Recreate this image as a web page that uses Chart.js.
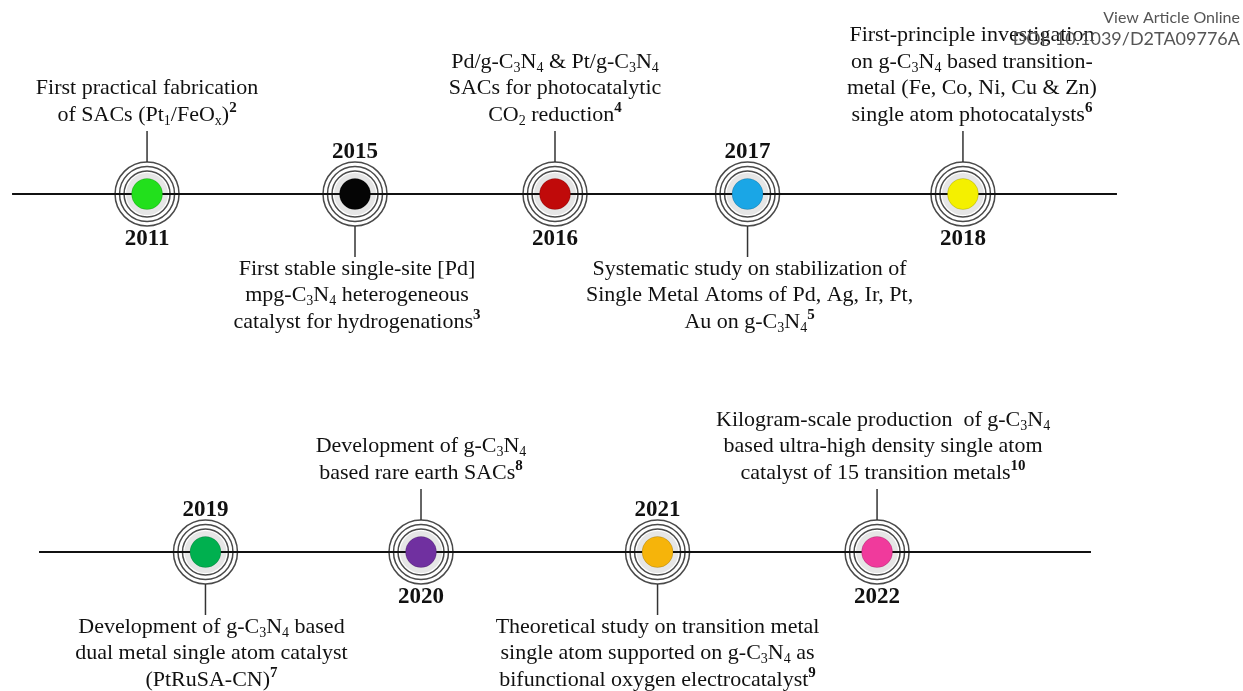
<!DOCTYPE html>
<html lang="en">
<head>
<meta charset="UTF-8">
<title>g-C3N4 single atom catalyst timeline</title>
<script src="https://cdn.jsdelivr.net/npm/chart.js"></script>
<style>
  body { margin: 0; background: #fff; }
  #wrap { position: relative; width: 1243px; height: 691px; }
</style>
</head>
<body>
<div id="wrap"><canvas id="timeline"></canvas></div>
<script>
// positions are % of page width along each timeline row
const topYears = ['2011', '2015', '2016', '2017', '2018'];
const topPositions = [11.83, 28.56, 44.65, 60.14, 77.47];
const bottomYears = ['2019', '2020', '2021', '2022'];
const bottomPositions = [16.53, 33.87, 52.9, 70.56];
const topAxisSpan = [0.97, 89.86];
const bottomAxisSpan = [3.14, 87.77];

// _{..} = subscript, ^{..} = superscript (reference number)
const topNotes = [
  ['First practical fabrication', 'of SACs (Pt_{1}/FeO_{x})^{2}'],
  ['First stable single-site [Pd]', 'mpg-C_{3}N_{4} heterogeneous', 'catalyst for hydrogenations^{3}'],
  ['Pd/g-C_{3}N_{4} & Pt/g-C_{3}N_{4}', 'SACs for photocatalytic', 'CO_{2} reduction^{4}'],
  ['Systematic study on stabilization of', 'Single Metal Atoms of Pd, Ag, Ir, Pt,', 'Au on g-C_{3}N_{4}^{5}'],
  ['First-principle investigation', 'on g-C_{3}N_{4} based transition-', 'metal (Fe, Co, Ni, Cu & Zn)', 'single atom photocatalysts^{6}']
];
const bottomNotes = [
  ['Development of g-C_{3}N_{4} based', 'dual metal single atom catalyst', '(PtRuSA-CN)^{7}'],
  ['Development of g-C_{3}N_{4}', 'based rare earth SACs^{8}'],
  ['Theoretical study on transition metal', 'single atom supported on g-C_{3}N_{4} as', 'bifunctional oxygen electrocatalyst^{9}'],
  ['Kilogram-scale production  of g-C_{3}N_{4}', 'based ultra-high density single atom', 'catalyst of 15 transition metals^{10}']
];

// styling
const topColors = ['#22e01c', '#050505', '#c00a0a', '#1aa6e6', '#f4f000'];
const bottomColors = ['#00b04f', '#7030a0', '#f6b40a', '#f03a9c'];
const topSides = ['up', 'down', 'up', 'down', 'up'];
const bottomSides = ['down', 'up', 'down', 'up'];
const topShift = [0, 2, 0, 2, 9];
const bottomShift = [6, 0, 0, 6];

const SERIF = '"Liberation Serif", "Times New Roman", serif';
const FS = 22;

function parseRich(str) {
  const parts = [];
  const re = /([_^])\{([^}]*)\}/g;
  let last = 0, m;
  while ((m = re.exec(str)) !== null) {
    if (m.index > last) parts.push({ t: str.slice(last, m.index), k: 'n' });
    parts.push({ t: m[2], k: m[1] === '_' ? 'sub' : 'sup' });
    last = re.lastIndex;
  }
  if (last < str.length) parts.push({ t: str.slice(last), k: 'n' });
  return parts;
}

function fontFor(k) {
  if (k === 'sub') return '14px ' + SERIF;
  if (k === 'sup') return 'bold 15px ' + SERIF;
  return FS + 'px ' + SERIF;
}

function drawRich(ctx, str, cx, cy) {
  const parts = parseRich(str);
  let total = 0;
  parts.forEach(p => { ctx.font = fontFor(p.k); p.w = ctx.measureText(p.t).width; total += p.w; });
  let x = cx - total / 2;
  ctx.textAlign = 'left';
  ctx.textBaseline = 'middle';
  parts.forEach(p => {
    ctx.font = fontFor(p.k);
    const dy = p.k === 'sub' ? 6 : (p.k === 'sup' ? -7 : 0);
    ctx.fillText(p.t, x, cy + dy);
    x += p.w;
  });
}

const events = [];
topYears.forEach((y, i) => events.push({ row: 0, year: y, notes: topNotes[i], side: topSides[i], shift: topShift[i] }));
bottomYears.forEach((y, i) => events.push({ row: 1, year: y, notes: bottomNotes[i], side: bottomSides[i], shift: bottomShift[i] }));

const timelinePlugin = {
  id: 'timelineDecor',
  beforeDatasetsDraw(chart) {
    const ctx = chart.ctx;
    const meta = chart.getDatasetMeta(0);
    ctx.save();
    meta.data.forEach(pt => {
      const { x, y } = pt.getProps(['x', 'y'], true);
      ctx.fillStyle = '#e6e6e6';
      ctx.beginPath(); ctx.arc(x, y, 21, 0, Math.PI * 2); ctx.fill();
      ctx.strokeStyle = '#4a4a4a';
      ctx.lineWidth = 1.5;
      [32, 27.5, 23].forEach(r => { ctx.beginPath(); ctx.arc(x, y, r, 0, Math.PI * 2); ctx.stroke(); });
    });
    ctx.restore();
  },
  afterDatasetsDraw(chart) {
    const ctx = chart.ctx;
    const meta = chart.getDatasetMeta(0);
    ctx.save();
    ctx.fillStyle = '#111';
    meta.data.forEach((pt, i) => {
      const ev = events[i];
      const { x, y } = pt.getProps(['x', 'y'], true);
      const up = ev.side === 'up';
      const dir = up ? -1 : 1;
      // connector
      ctx.strokeStyle = '#333';
      ctx.lineWidth = 1.5;
      ctx.beginPath();
      ctx.moveTo(x, y + dir * 32);
      ctx.lineTo(x, y + dir * 63);
      ctx.stroke();
      // year on the opposite side
      ctx.font = 'bold 23px ' + SERIF;
      ctx.textAlign = 'center';
      ctx.textBaseline = 'middle';
      ctx.fillText(ev.year, x, up ? y + 45 : y - 42);
      // description
      const lh = 26.5;
      const n = ev.notes.length;
      ev.notes.forEach((line, j) => {
        const cy = up ? y - 79 - (n - 1 - j) * lh : y + 75 + j * lh;
        drawRich(ctx, line, x + ev.shift, cy);
      });
    });
    // journal watermark
    ctx.fillStyle = '#555';
    ctx.textAlign = 'right';
    ctx.textBaseline = 'middle';
    ctx.font = '16px Lato, "Open Sans", sans-serif';
    ctx.fillText('View Article Online', 1240, 18);
    ctx.font = '18px Lato, "Open Sans", sans-serif';
    ctx.fillText('DOI: 10.1039/D2TA09776A', 1240, 39);
    ctx.restore();
  }
};

const pointData = events.map((ev, i) => ({
  x: ev.row === 0 ? topPositions[i] : bottomPositions[i - topYears.length],
  y: ev.row
}));

new Chart(document.getElementById('timeline'), {
  type: 'scatter',
  data: {
    datasets: [{
      label: 'events',
      data: pointData,
      pointRadius: 15.5,
      pointHoverRadius: 15.5,
      pointBackgroundColor: topColors.concat(bottomColors),
      pointBorderColor: 'rgba(0,0,0,0.15)',
      pointBorderWidth: 1,
      order: 0
    }, {
      type: 'line',
      label: 'row1',
      data: [{ x: topAxisSpan[0], y: 0 }, { x: topAxisSpan[1], y: 0 }],
      borderColor: '#111',
      borderWidth: 2.2,
      pointRadius: 0,
      order: 1
    }, {
      type: 'line',
      label: 'row2',
      data: [{ x: bottomAxisSpan[0], y: 1 }, { x: bottomAxisSpan[1], y: 1 }],
      borderColor: '#111',
      borderWidth: 2.2,
      pointRadius: 0,
      order: 1
    }]
  },
  options: {
    responsive: true,
    maintainAspectRatio: false,
    animation: false,
    layout: { padding: 0, autoPadding: false },
    plugins: { legend: { display: false }, tooltip: { enabled: false } },
    scales: {
      x: { type: 'linear', min: 0, max: 100, display: false },
      y: { type: 'linear', min: -0.5419, max: 1.3883, reverse: true, display: false }
    }
  },
  plugins: [timelinePlugin]
});
</script>
</body>
</html>
